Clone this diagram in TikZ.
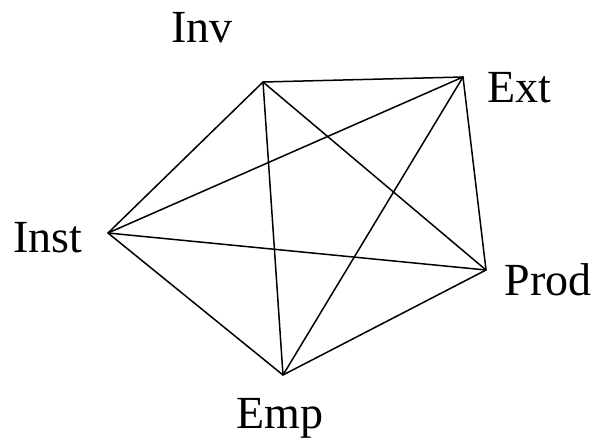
\documentclass[tikz,border=0pt]{standalone}
\usepackage{fontspec}
\setmainfont{Liberation Serif}
\begin{document}
\begin{tikzpicture}[x=1pt, y=-1pt, line width=1.5pt, line join=miter,
    lbl/.style={anchor=base, inner sep=0pt, font=\fontsize{46}{54}\selectfont}]
  \useasboundingbox (0,0) rectangle (596,440);
  % 꼭짓점
  \coordinate (inv)  at (263,82);
  \coordinate (ext)  at (463,77);
  \coordinate (prod) at (486,270);
  \coordinate (emp)  at (283,375);
  \coordinate (inst) at (108,233);
  % 라벨
  \node[lbl] (invL)  at (202,42)  {Inv};
  \node[lbl] (extL)  at (519,102) {Ext};
  \node[lbl] (instL) at (48,252)  {Inst};
  \node[lbl] (prodL) at (548,295) {Prod};
  \node[lbl] (empL)  at (280,428) {Emp};
  % 변(완전그래프)
  \draw (inv) -- (ext) -- (prod) -- (emp) -- (inst) -- cycle;
  \draw (inv) -- (prod);
  \draw (inv) -- (emp);
  \draw (ext) -- (emp);
  \draw (ext) -- (inst);
  \draw (inst) -- (prod);
\end{tikzpicture}
\end{document}
